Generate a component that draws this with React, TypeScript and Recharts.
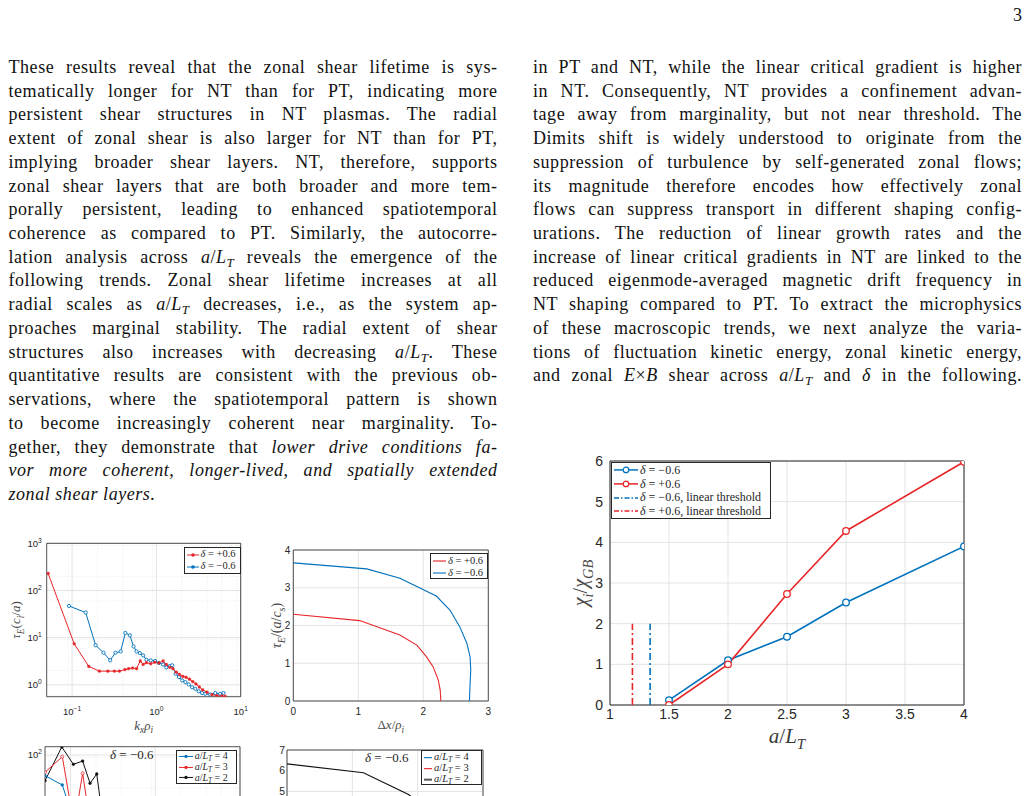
import React from "react";
import { LineChart, Line, XAxis, YAxis, CartesianGrid, ReferenceArea, Legend } from "recharts";

const BLUE = "#0072bd";
const RED = "#e8262a";
const INK = "#262626";
const GRID = "#e3e3e3";
const SERIF = '"Liberation Serif", "DejaVu Serif", serif';
const SANS = '"Liberation Sans", Arial, sans-serif';
const LINE_H = 23.72;

// ---- page text (one entry per printed line, * toggles italics) ----
const leftLines = [
  "These results reveal that the zonal shear lifetime is sys-",
  "tematically longer for NT than for PT, indicating more",
  "persistent shear structures in NT plasmas.  The radial",
  "extent of zonal shear is also larger for NT than for PT,",
  "implying broader shear layers.  NT, therefore, supports",
  "zonal shear layers that are both broader and more tem-",
  "porally persistent, leading to enhanced spatiotemporal",
  "coherence as compared to PT. Similarly, the autocorre-",
  "lation analysis across {aLT} reveals the emergence of the",
  "following trends.  Zonal shear lifetime increases at all",
  "radial scales as {aLT} decreases, i.e., as the system ap-",
  "proaches marginal stability.  The radial extent of shear",
  "structures also increases with decreasing {aLT}.  These",
  "quantitative results are consistent with the previous ob-",
  "servations, where the spatiotemporal pattern is shown",
  "to become increasingly coherent near marginality.  To-",
  "gether, they demonstrate that *lower drive conditions fa-",
  "*vor more coherent, longer-lived, and spatially extended",
  "*zonal shear layers.",
];

const rightLines = [
  "in PT and NT, while the linear critical gradient is higher",
  "in NT. Consequently, NT provides a confinement advan-",
  "tage away from marginality, but not near threshold. The",
  "Dimits shift is widely understood to originate from the",
  "suppression of turbulence by self-generated zonal flows;",
  "its magnitude therefore encodes how effectively zonal",
  "flows can suppress transport in different shaping config-",
  "urations.  The reduction of linear growth rates and the",
  "increase of linear critical gradients in NT are linked to the",
  "reduced eigenmode-averaged magnetic drift frequency in",
  "NT shaping compared to PT. To extract the microphysics",
  "of these macroscopic trends, we next analyze the varia-",
  "tions of fluctuation kinetic energy, zonal kinetic energy,",
  "and zonal {ExB} shear across {aLT} and {delta} in the following.",
];

// ---- main figure: chi_i / chi_GB vs a/L_T ----
const gradients = [1.5, 2, 2.5, 3, 4];
const chiNegative = [0.12, 1.1, 1.68, 2.52, 3.9];
const chiPositive = [0, 1.0, 2.73, 4.28, 5.98];
const thresholdNegative = 1.34;
const thresholdPositive = 1.19;
const thresholdTop = 2;
const gradientTicks = [1, 1.5, 2, 2.5, 3, 3.5, 4];
const chiTicks = [0, 1, 2, 3, 4, 5, 6];

// ---- lifetime spectrum vs k_x rho_i ----
const kxPositive = [0.052, 0.106, 0.158, 0.211, 0.265, 0.318, 0.364, 0.424, 0.469, 0.522, 0.582, 0.643, 0.697, 0.762, 0.857, 0.955, 1.07, 1.2, 1.31, 1.44, 1.57, 1.72, 1.88, 2.06, 2.25, 2.47, 2.7, 2.95, 3.23, 3.54, 3.98, 4.56, 5.22, 5.97, 6.54];
const tauPositive = [229, 7.4, 2.45, 1.95, 1.95, 1.95, 1.95, 2.1, 2.2, 2.27, 2.2, 3.2, 2.7, 2.95, 2.8, 3.0, 2.9, 3.2, 2.7, 2.35, 2.2, 1.85, 1.66, 1.5, 1.44, 1.32, 1.17, 1.04, 0.9, 0.78, 0.7, 0.62, 0.59, 0.58, 0.57];
const kxNegative = [0.092, 0.145, 0.19, 0.236, 0.283, 0.327, 0.377, 0.428, 0.485, 0.536, 0.582, 0.637, 0.697, 0.762, 0.857, 0.964, 1.07, 1.2, 1.31, 1.44, 1.54, 1.69, 1.85, 2.02, 2.21, 2.42, 2.65, 2.9, 3.18, 3.48, 3.8, 4.35, 4.99, 5.71, 6.25];
const tauNegative = [47, 34, 6.9, 4.8, 3.3, 4.8, 5.1, 12.6, 11.2, 6.5, 5.1, 4.7, 4.2, 3.4, 3.3, 3.2, 2.9, 2.7, 2.33, 2.5, 2.6, 1.71, 1.46, 1.24, 1.14, 1.02, 0.89, 0.82, 0.73, 0.67, 0.645, 0.62, 0.67, 0.645, 0.67];
const powerTicksKx = [0.1, 1, 10];
const powerTicksTau = [1, 10, 100, 1000];

// ---- lifetime vs radial separation ----
const dxPositive = [0, 1.02, 1.64, 1.9, 2.05, 2.15, 2.23, 2.26, 2.27];
const tauDxPositive = [2.3, 2.13, 1.75, 1.48, 1.17, 0.91, 0.56, 0.29, 0];
const dxNegative = [0, 1.13, 1.64, 2.2, 2.41, 2.56, 2.67, 2.72, 2.73, 2.72, 2.71];
const tauDxNegative = [3.66, 3.5, 3.25, 2.78, 2.41, 1.97, 1.53, 1.17, 0.82, 0.47, 0];

// ---- gradient scan panels (only the top is on this page) ----
const kxGrad4 = [0.05, 0.08, 0.095];
const tauGrad4 = [36.5, 23.2, 9];
const kxGrad3 = [0.05, 0.08, 0.099, 0.124, 0.139, 0.158];
const tauGrad3 = [43, 92, 10, 12, 41, 9];
const kxGrad2 = [0.05, 0.079, 0.108, 0.139, 0.17, 0.204, 0.223];
const tauGrad2 = [28.6, 148, 63.5, 74.6, 25.2, 39.6, 12];
const dxGrad2 = [0, 1.17, 1.86, 2.2];
const tauDxGrad2 = [6.33, 5.9, 4.85, 4.0];

type Pt = { x: number; y: number };
const zip = (xs: number[], ys: number[]): Pt[] => xs.map((x, i) => ({ x, y: ys[i] }));

const decadeMinor = (lo: number, hi: number) => {
  const out: number[] = [];
  for (let d = lo; d < hi; d *= 10) for (let k = 2; k <= 9; k++) out.push(d * k);
  return out;
};

// ---------- text rendering ----------
const Sub = ({ children }: { children: React.ReactNode }) => (
  <span style={{ fontSize: "0.72em", verticalAlign: "-0.28em", lineHeight: 0, fontStyle: "italic" }}>{children}</span>
);
const ALT = () => (
  <>
    <i>a</i>/<i>L</i>
    <Sub>T</Sub>
  </>
);

function renderLine(text: string) {
  const parts = text.split(/(\{aLT\}|\{ExB\}|\{delta\}|\*)/);
  let italic = false;
  const out: React.ReactNode[] = [];
  parts.forEach((p, i) => {
    if (p === "*") {
      italic = !italic;
    } else if (p === "{aLT}") out.push(<ALT key={i} />);
    else if (p === "{ExB}") out.push(<span key={i}><i>E</i>×<i>B</i></span>);
    else if (p === "{delta}") out.push(<i key={i}>δ</i>);
    else if (p) out.push(italic ? <i key={i}>{p}</i> : <span key={i}>{p}</span>);
  });
  return out;
}

function Column({ lines, left, top, lastRagged }: { lines: string[]; left: number; top: number; lastRagged?: boolean }) {
  return (
    <div style={{ position: "absolute", left, top, width: 489, fontFamily: SERIF, fontSize: 18, letterSpacing: 0.55, color: "#111" }}>
      {lines.map((l, i) => (
        <div
          key={i}
          style={{
            height: LINE_H,
            lineHeight: `${LINE_H}px`,
            textAlign: "justify",
            textAlignLast: lastRagged && i === lines.length - 1 ? "left" : "justify",
          }}
        >
          {renderLine(l)}
        </div>
      ))}
    </div>
  );
}

// ---------- chart helpers ----------
type Entry = { color: string; label: React.ReactNode; dash?: string; marker?: "o" | "*"; width?: number };

function LegendBox({ entries, rowH, fontSize, sample, padTop = 0 }: { entries: Entry[]; rowH: number; fontSize: number; sample: number; padTop?: number }) {
  return (
    <div
      style={{
        border: `1px solid ${INK}`,
        background: "#fff",
        boxSizing: "border-box",
        width: "100%",
        height: "100%",
        paddingTop: padTop,
        paddingLeft: 1,
        fontFamily: SERIF,
        fontSize,
        color: INK,
      }}
    >
      {entries.map((e, i) => {
        const m = sample / 2;
        const c = rowH / 2;
        return (
          <div key={i} style={{ display: "flex", alignItems: "center", height: rowH, whiteSpace: "nowrap", lineHeight: 1 }}>
            <svg width={sample} height={rowH} style={{ flex: "none" }}>
              <line x1={1} x2={sample - 1} y1={c} y2={c} stroke={e.color} strokeWidth={e.width ?? 1.5} strokeDasharray={e.dash} />
              {e.marker === "o" && <circle cx={m} cy={c} r={rowH * 0.2} fill="#fff" stroke={e.color} strokeWidth={1.2} />}
              {e.marker === "*" && <circle cx={m} cy={c} r={rowH * 0.15} fill={e.color} />}
            </svg>
            <span style={{ marginLeft: 1 }}>{e.label}</span>
          </div>
        );
      })}
    </div>
  );
}

const Delta = ({ v, extra }: { v: string; extra?: string }) => (
  <>
    <i>δ</i> = {v}
    {extra}
  </>
);
const GradLabel = ({ v }: { v: string }) => (
  <>
    <i>a</i>/<i>L</i>
    <Sub>T</Sub> = {v}
  </>
);

const expText = (e: number) => (e < 0 ? `−${-e}` : `${e}`);

const PowerTickY = (size: number) => (props: any) => {
  const { x, y, payload } = props;
  const e = Math.round(Math.log10(payload.value));
  return (
    <text x={x} y={y + size * 0.36} textAnchor="end" fontFamily={SANS} fontSize={size} fill={INK}>
      10
      <tspan dy={-size * 0.45} fontSize={size * 0.7}>
        {expText(e)}
      </tspan>
    </text>
  );
};

const PowerTickX = (size: number) => (props: any) => {
  const { x, y, payload } = props;
  const e = Math.round(Math.log10(payload.value));
  return (
    <text x={x} y={y + size * 0.74} textAnchor="middle" fontFamily={SANS} fontSize={size} fill={INK}>
      10
      <tspan dy={-size * 0.45} fontSize={size * 0.7}>
        {expText(e)}
      </tspan>
    </text>
  );
};

// math-like text in svg: n = upright, i = italic, s = italic subscript
type Seg = [string, "n" | "i" | "s"];
const mathTspans = (segs: Seg[], size: number) => {
  let level = 0;
  return segs.map(([t, k], idx) => {
    const target = k === "s" ? 1 : 0;
    const dy = (target - level) * size * 0.28;
    level = target;
    return (
      <tspan key={idx} dy={dy !== 0 ? dy : undefined} fontSize={k === "s" ? size * 0.72 : size} fontStyle={k === "n" ? "normal" : "italic"}>
        {t}
      </tspan>
    );
  });
};

const xTitle = (offset: number, size: number, segs: Seg[], color = "#3a3a3a") => (props: any) => {
  const { x, y, width } = props.viewBox;
  return (
    <text x={x + width / 2} y={y + offset} textAnchor="middle" fontFamily={SERIF} fontSize={size} fill={color}>
      {mathTspans(segs, size)}
    </text>
  );
};

const yTitle = (cxAbs: number, size: number, segs: Seg[], color = "#4a4a4a") => (props: any) => {
  const { y, height } = props.viewBox;
  const cy = y + height / 2;
  return (
    <text x={cxAbs} y={cy} transform={`rotate(-90 ${cxAbs} ${cy})`} textAnchor="middle" fontFamily={SERIF} fontSize={size} fill={color}>
      {mathTspans(segs, size)}
    </text>
  );
};

const starDot = (color: string, r: number) => (p: any) => {
  const { cx, cy } = p;
  if (cx == null || cy == null) return <g key={p.key} />;
  return <circle key={p.key} cx={cx} cy={cy} r={r} fill={color} stroke={color} strokeWidth={0.4} />;
};
const ringDot = (color: string, r: number, w = 1) => (p: any) => {
  const { cx, cy } = p;
  if (cx == null || cy == null) return <g key={p.key} />;
  return <circle key={p.key} cx={cx} cy={cy} r={r} fill="#fff" stroke={color} strokeWidth={w} />;
};

const smallTick = { fill: INK, fontSize: 10, fontFamily: SANS };

// ---------- panels ----------
function TransportChart() {
  return (
    <div style={{ position: "absolute", left: 560, top: 450 }}>
      <LineChart width={420} height={310} margin={{ top: 11, right: 16, bottom: 0, left: 0 }}>
        <CartesianGrid stroke={GRID} strokeWidth={1} />
        <XAxis
          type="number"
          dataKey="x"
          domain={[1, 4]}
          ticks={gradientTicks}
          allowDataOverflow
          axisLine={false}
          tickLine={false}
          tickSize={4}
          tickMargin={0}
          height={55}
          tick={{ fill: INK, fontSize: 14, fontFamily: SANS }}
          label={{ content: xTitle(38, 21, [["a", "i"], ["/", "n"], ["L", "i"], ["T", "s"]]) }}
        />
        <YAxis
          type="number"
          domain={[0, 6]}
          ticks={chiTicks}
          allowDataOverflow
          axisLine={false}
          tickLine={false}
          tickSize={4}
          tickMargin={3}
          width={50}
          tick={{ fill: INK, fontSize: 14, fontFamily: SANS }}
          label={{ content: yTitle(27, 20, [["χ", "i"], ["i", "s"], ["/", "n"], ["χ", "i"], ["GB", "s"]]) }}
        />
        <Line data={[{ x: thresholdPositive, y: 0 }, { x: thresholdPositive, y: thresholdTop }]} dataKey="y" stroke={RED} strokeWidth={1.6} strokeDasharray="7 3 2 3" dot={false} isAnimationActive={false} />
        <Line data={[{ x: thresholdNegative, y: 0 }, { x: thresholdNegative, y: thresholdTop }]} dataKey="y" stroke={BLUE} strokeWidth={1.6} strokeDasharray="7 3 2 3" dot={false} isAnimationActive={false} />
        <Line data={zip(gradients, chiNegative)} dataKey="y" stroke={BLUE} strokeWidth={1.6} dot={ringDot(BLUE, 3.3, 1.3)} isAnimationActive={false} />
        <Line data={zip(gradients, chiPositive)} dataKey="y" stroke={RED} strokeWidth={1.6} dot={ringDot(RED, 3.3, 1.3)} isAnimationActive={false} />
        <ReferenceArea x1={1} x2={4} y1={0} y2={6} fill="none" stroke={INK} strokeWidth={1} ifOverflow="visible" />
        <Legend
          layout="horizontal"
          verticalAlign="middle"
          align="center"
          width={160}
          height={57}
          wrapperStyle={{ left: 51, top: 12, width: 160, height: 57 }}
          content={() => (
            <LegendBox
              rowH={13.8}
              fontSize={12}
              sample={26}
              entries={[
                { color: BLUE, marker: "o", label: <Delta v="−0.6" /> },
                { color: RED, marker: "o", label: <Delta v="+0.6" /> },
                { color: BLUE, dash: "5 2 1.5 2", label: <Delta v="−0.6" extra=", linear threshold" /> },
                { color: RED, dash: "5 2 1.5 2", label: <Delta v="+0.6" extra=", linear threshold" /> },
              ]}
            />
          )}
        />
      </LineChart>
    </div>
  );
}

function SpectrumChart() {
  return (
    <div style={{ position: "absolute", left: 0, top: 535 }}>
      <LineChart width={250} height={200} margin={{ top: 8.3, right: 9.3, bottom: 0, left: 0 }}>
        <CartesianGrid stroke="#ececec" strokeDasharray="1 1.5" verticalValues={decadeMinor(0.01, 10).filter((v) => v > 0.05)} horizontalValues={decadeMinor(0.1, 1000).filter((v) => v > 0.56)} />
        <CartesianGrid stroke={GRID} verticalValues={powerTicksKx} horizontalValues={powerTicksTau} />
        <XAxis
          type="number"
          dataKey="x"
          scale="log"
          domain={[0.05, 10]}
          ticks={powerTicksKx}
          allowDataOverflow
          axisLine={false}
          tickLine={false}
          tickSize={0}
          tickMargin={11.5}
          height={38.3}
          tick={PowerTickX(9.5)}
          label={{ content: xTitle(33, 13, [["k", "i"], ["x", "s"], ["ρ", "i"], ["i", "s"]], "#4a4a4a") }}
        />
        <YAxis
          type="number"
          scale="log"
          domain={[0.56, 1000]}
          ticks={powerTicksTau}
          allowDataOverflow
          axisLine={false}
          tickLine={false}
          tickSize={0}
          tickMargin={5}
          width={46.7}
          tick={PowerTickY(9.5)}
          label={{ content: yTitle(20, 13, [["τ", "i"], ["E", "s"], ["(", "n"], ["c", "i"], ["i", "s"], ["/", "n"], ["a", "i"], [")", "n"]]) }}
        />
        <Line data={zip(kxNegative, tauNegative)} dataKey="y" stroke={BLUE} strokeWidth={1} dot={ringDot(BLUE, 1.6, 0.9)} isAnimationActive={false} />
        <Line data={zip(kxPositive, tauPositive)} dataKey="y" stroke={RED} strokeWidth={1} dot={starDot(RED, 1.4)} isAnimationActive={false} />
        <ReferenceArea x1={0.05} x2={10} y1={0.56} y2={1000} fill="none" stroke={INK} strokeWidth={0.8} ifOverflow="visible" />
        <Legend
          layout="horizontal"
          verticalAlign="middle"
          align="center"
          width={57}
          height={27}
          wrapperStyle={{ left: 183.5, top: 12, width: 57, height: 27 }}
          content={() => (
            <LegendBox
              rowH={12}
              fontSize={10.5}
              sample={14}
              padTop={0.5}
              entries={[
                { color: RED, marker: "*", width: 1, label: <Delta v="+0.6" /> },
                { color: BLUE, marker: "*", width: 1, label: <Delta v="−0.6" /> },
              ]}
            />
          )}
        />
      </LineChart>
    </div>
  );
}

function ExtentChart() {
  return (
    <div style={{ position: "absolute", left: 250, top: 535 }}>
      <LineChart width={250} height={200} margin={{ top: 15, right: 11.7, bottom: 0, left: 0 }}>
        <CartesianGrid stroke={GRID} />
        <XAxis
          type="number"
          dataKey="x"
          domain={[0, 3]}
          ticks={[0, 1, 2, 3]}
          allowDataOverflow
          axisLine={false}
          tickLine={false}
          tickSize={4}
          tickMargin={3}
          height={34}
          tick={smallTick}
          label={{ content: xTitle(28, 13, [["Δ", "n"], ["x", "i"], ["/", "n"], ["ρ", "i"], ["i", "s"]], "#4a4a4a") }}
        />
        <YAxis
          type="number"
          domain={[0, 4]}
          ticks={[0, 1, 2, 3, 4]}
          allowDataOverflow
          axisLine={false}
          tickLine={false}
          tickSize={0}
          tickMargin={3}
          width={43.3}
          tick={smallTick}
          label={{ content: yTitle(31, 14, [["τ", "i"], ["E", "s"], ["/(", "n"], ["a", "i"], ["/", "n"], ["c", "i"], ["s", "s"], [")", "n"]]) }}
        />
        <Line data={zip(dxPositive, tauDxPositive)} dataKey="y" stroke={RED} strokeWidth={1.1} dot={false} isAnimationActive={false} />
        <Line data={zip(dxNegative, tauDxNegative)} dataKey="y" stroke={BLUE} strokeWidth={1.1} dot={false} isAnimationActive={false} />
        <ReferenceArea x1={0} x2={3} y1={0} y2={4} fill="none" stroke={INK} strokeWidth={0.8} ifOverflow="visible" />
        <Legend
          layout="horizontal"
          verticalAlign="middle"
          align="center"
          width={58}
          height={26}
          wrapperStyle={{ left: 180, top: 18.3, width: 58, height: 26 }}
          content={() => (
            <LegendBox
              rowH={12}
              fontSize={10.5}
              sample={15}
              padTop={0.5}
              entries={[
                { color: RED, width: 1.1, label: <Delta v="+0.6" /> },
                { color: BLUE, width: 1.1, label: <Delta v="−0.6" /> },
              ]}
            />
          )}
        />
      </LineChart>
    </div>
  );
}

function GradientSpectrumChart() {
  return (
    <div style={{ position: "absolute", left: 0, top: 740 }}>
      <LineChart width={250} height={200} margin={{ top: 6.7, right: 10, bottom: 0, left: 0 }}>
        <CartesianGrid stroke="#ececec" strokeDasharray="1 1.5" verticalValues={decadeMinor(0.01, 10).filter((v) => v > 0.05)} horizontalValues={decadeMinor(0.1, 1000).filter((v) => v < 150)} />
        <CartesianGrid stroke={GRID} verticalValues={powerTicksKx} horizontalValues={[1, 10, 100]} />
        <XAxis type="number" dataKey="x" scale="log" domain={[0.05, 10]} ticks={powerTicksKx} allowDataOverflow axisLine={false} tickLine={false} tickSize={0} tickMargin={11.5} height={43.3} tick={PowerTickX(9.5)} />
        <YAxis type="number" scale="log" domain={[0.1, 150]} ticks={[1, 10, 100]} allowDataOverflow axisLine={false} tickLine={false} tickSize={0} tickMargin={3} width={45} tick={PowerTickY(9.5)} />
        <Line data={zip(kxGrad2, tauGrad2)} dataKey="y" stroke="#111" strokeWidth={1} dot={starDot("#111", 1.4)} isAnimationActive={false} />
        <Line data={zip(kxGrad3, tauGrad3)} dataKey="y" stroke={RED} strokeWidth={1} dot={ringDot(RED, 1.5, 0.8)} isAnimationActive={false} />
        <Line data={zip(kxGrad4, tauGrad4)} dataKey="y" stroke={BLUE} strokeWidth={1} dot={starDot(BLUE, 1.4)} isAnimationActive={false} />
        <ReferenceArea x1={0.05} x2={10} y1={0.1} y2={150} fill="none" stroke={INK} strokeWidth={0.8} ifOverflow="visible" />
        <Legend
          layout="horizontal"
          verticalAlign="middle"
          align="center"
          width={61}
          height={34}
          wrapperStyle={{ left: 175.7, top: 9.7, width: 61, height: 34 }}
          content={() => (
            <LegendBox
              rowH={10.9}
              fontSize={10}
              sample={16}
              padTop={0}
              entries={[
                { color: BLUE, marker: "*", width: 1, label: <GradLabel v="4" /> },
                { color: RED, marker: "*", width: 1, label: <GradLabel v="3" /> },
                { color: "#111", marker: "*", width: 1, label: <GradLabel v="2" /> },
              ]}
            />
          )}
        />
      </LineChart>
      <div style={{ position: "absolute", left: 110, top: 8, fontFamily: SERIF, fontSize: 13, lineHeight: "14px", color: INK, whiteSpace: "nowrap" }}>
        <i>δ</i> = −0.6
      </div>
    </div>
  );
}

function GradientExtentChart() {
  return (
    <div style={{ position: "absolute", left: 250, top: 740 }}>
      <LineChart width={250} height={200} margin={{ top: 10, right: 17, bottom: 0, left: 0 }}>
        <CartesianGrid stroke={GRID} />
        <XAxis type="number" dataKey="x" domain={[0, 3]} ticks={[0, 1, 2, 3]} allowDataOverflow axisLine={false} tickLine={false} tickSize={4} tickMargin={3} height={45} tick={smallTick} />
        <YAxis type="number" domain={[0, 7]} ticks={[0, 1, 2, 3, 4, 5, 6, 7]} allowDataOverflow axisLine={false} tickLine={false} tickSize={0} tickMargin={2} width={37} tick={{ ...smallTick, fontSize: 10.5 }} />
        <Line data={zip(dxGrad2, tauDxGrad2)} dataKey="y" stroke="#111" strokeWidth={1.1} dot={false} isAnimationActive={false} />
        <ReferenceArea x1={0} x2={3} y1={0} y2={7} fill="none" stroke={INK} strokeWidth={0.8} ifOverflow="visible" />
        <Legend
          layout="horizontal"
          verticalAlign="middle"
          align="center"
          width={61}
          height={35}
          wrapperStyle={{ left: 171, top: 10, width: 61, height: 35 }}
          content={() => (
            <LegendBox
              rowH={11.3}
              fontSize={10.5}
              sample={10}
              padTop={0.5}
              entries={[
                { color: BLUE, width: 1.1, label: <GradLabel v="4" /> },
                { color: RED, width: 1.1, label: <GradLabel v="3" /> },
                { color: "#555", width: 2, label: <GradLabel v="2" /> },
              ]}
            />
          )}
        />
      </LineChart>
      <div style={{ position: "absolute", left: 115, top: 11, fontFamily: SERIF, fontSize: 13, lineHeight: "14px", color: INK, whiteSpace: "nowrap" }}>
        <i>δ</i> = −0.6
      </div>
    </div>
  );
}

export default function App() {
  return (
    <div style={{ position: "absolute", left: 0, top: 0, width: 1029, height: 796, overflow: "hidden", background: "#fff" }}>
      <div style={{ position: "absolute", top: 4.4, left: 1000, width: 22, textAlign: "right", fontFamily: SERIF, fontSize: 18, lineHeight: `${LINE_H}px`, color: "#111" }}>3</div>
      <Column lines={leftLines} left={8.5} top={56} lastRagged />
      <Column lines={rightLines} left={533} top={56} />
      <TransportChart />
      <SpectrumChart />
      <ExtentChart />
      <GradientSpectrumChart />
      <GradientExtentChart />
    </div>
  );
}
